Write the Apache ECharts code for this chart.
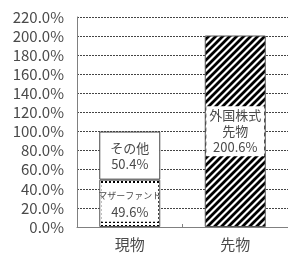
<!DOCTYPE html>
<html>
<head>
<meta charset="utf-8">
<script src="https://cdn.jsdelivr.net/npm/echarts@6/dist/echarts.min.js"></script>
<style>
html,body{margin:0;padding:0;background:#fff;}
#main{width:288px;height:253px;}
</style>
</head>
<body>
<div id="main"></div>
<script>
// データ
var categories = ['現物', '先物'];
var motherFund = [49.6, '-'];
var others = [50.4, '-'];
var futures = ['-', 200.6];
var yMax = 220;
var yStep = 20;

var FONT = '"Noto Sans CJK JP", "Noto Sans", sans-serif';
var TXT = '#4a4a4a';

// 点パターン
function dotPattern(){
	var c = document.createElement('canvas');
	c.width = 4; c.height = 4;
	var ctx = c.getContext('2d');
	ctx.fillStyle = '#fff';
	ctx.fillRect(0, 0, 4, 4);
	ctx.fillStyle = '#000';
	ctx.fillRect(1, 1, 2, 2);
	return c;
}

// 斜線パターン
function hatchPattern(){
	var s = 7;
	var c = document.createElement('canvas');
	c.width = s; c.height = s;
	var ctx = c.getContext('2d');
	ctx.fillStyle = '#fff';
	ctx.fillRect(0, 0, s, s);
	ctx.strokeStyle = '#000';
	ctx.lineWidth = 2.8;
	ctx.beginPath();
	ctx.moveTo(-1, s + 1); ctx.lineTo(s + 1, -1);
	ctx.moveTo(-1, 1); ctx.lineTo(1, -1);
	ctx.moveTo(s - 1, s + 1); ctx.lineTo(s + 1, s - 1);
	ctx.stroke();
	return c;
}

function pct(v){ return v.toFixed(1) + '%'; }

var labelBase = {
	show: true,
	position: 'inside',
	backgroundColor: '#fff',
	color: TXT,
	fontFamily: FONT,
	lineHeight: 16
};

var myChart = echarts.init(document.getElementById('main'));
var option = {
	animation: false,
	grid: {left: 77, right: 0, top: 17, bottom: 26},
	xAxis: {
		type: 'category',
		data: categories,
		axisLine: {lineStyle: {color: '#808080'}},
		axisTick: {show: true, inside: true, length: 3, lineStyle: {color: '#808080'}},
		axisLabel: {color: TXT, fontFamily: FONT, fontSize: 15, margin: 10}
	},
	yAxis: {
		type: 'value',
		min: 0,
		max: yMax,
		interval: yStep,
		axisLine: {show: true, lineStyle: {color: '#808080'}},
		axisTick: {show: false},
		axisLabel: {
			color: TXT, fontFamily: FONT, fontSize: 15, margin: 13,
			formatter: function(v){ return pct(v); }
		},
		splitLine: {lineStyle: {color: '#444', type: [2, 1], width: 1}}
	},
	series: [
		{
			name: 'マザーファンド',
			type: 'bar',
			stack: 'a',
			barWidth: 61,
			data: motherFund,
			itemStyle: {color: {image: dotPattern(), repeat: 'repeat'}, borderColor: '#555', borderWidth: 1},
			label: Object.assign({}, labelBase, {
				width: 57,
				align: 'center',
				padding: [3, 0, 2, 0],
				formatter: function(p){ return '{a|マザーファンド}\n{b|' + pct(p.value) + '}'; },
				rich: {
					a: {fontSize: 9, color: TXT, fontFamily: FONT, lineHeight: 16},
					b: {fontSize: 13, color: TXT, fontFamily: FONT, lineHeight: 16}
				}
			})
		},
		{
			name: 'その他',
			type: 'bar',
			stack: 'a',
			barWidth: 61,
			data: others,
			itemStyle: {color: '#fff', borderColor: '#444', borderWidth: 1},
			label: Object.assign({}, labelBase, {
				fontSize: 13,
				formatter: function(p){ return 'その他\n' + pct(p.value); }
			})
		},
		{
			name: '外国株式先物',
			type: 'bar',
			stack: 'a',
			barWidth: 61,
			data: futures,
			itemStyle: {color: {image: hatchPattern(), repeat: 'repeat'}, borderColor: '#555', borderWidth: 1},
			label: Object.assign({}, labelBase, {
				fontSize: 13,
				width: 58,
				align: 'center',
				padding: [1, 0, 1, 0],
				formatter: function(p){ return '外国株式\n先物\n' + pct(p.value); }
			})
		}
	]
};
myChart.setOption(option);
</script>
</body>
</html>
